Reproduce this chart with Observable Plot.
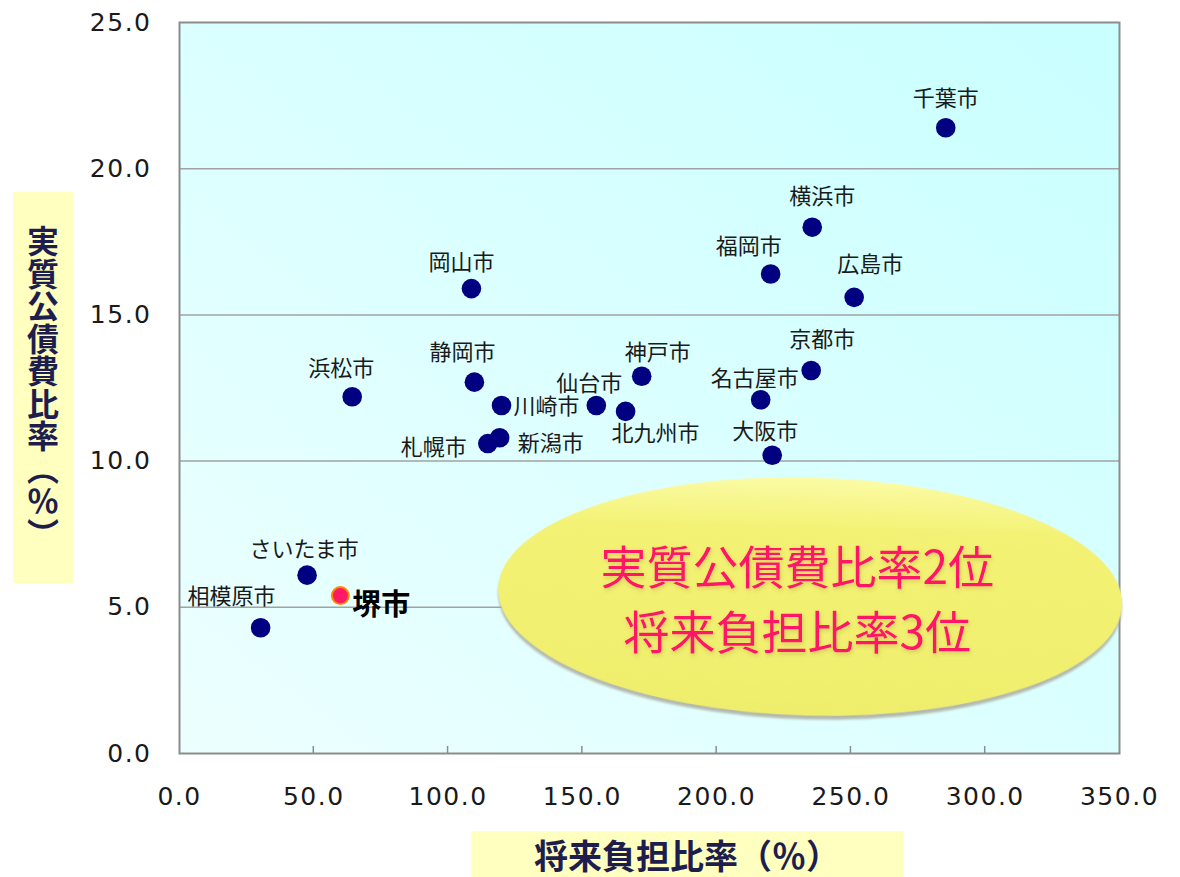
<!DOCTYPE html>
<html lang="ja">
<head>
<meta charset="utf-8">
<title>実質公債費比率と将来負担比率</title>
<script src="https://cdn.jsdelivr.net/npm/d3@7"></script>
<script src="https://cdn.jsdelivr.net/npm/@observablehq/plot@0.6"></script>
<style>
  html, body { margin: 0; padding: 0; background: #ffffff; }
  #chart { position: relative; width: 1180px; height: 877px; overflow: hidden; }
  #chart svg { position: absolute; left: 0; top: 0; }
  #chart svg g[aria-label="y-axis tick label"] text,
  #chart svg g[aria-label="x-axis tick label"] text { letter-spacing: 1.5px; }
  .axis-title {
    position: absolute;
    background: #ffffbf;
    color: #1e1e4e;
    font-family: "Noto Sans CJK JP", sans-serif;
    font-weight: 700;
    display: flex; align-items: center; justify-content: center;
  }
  #ytitle { left: 13px; top: 192px; width: 60px; height: 391px; font-size: 32px; letter-spacing: 0.5px; writing-mode: vertical-rl; }
  #xtitle { left: 471px; top: 831px; width: 432px; height: 46px; font-size: 34px; }
</style>
</head>
<body>
<div id="chart">
  <div class="axis-title" id="ytitle">実質公債費比率（％）</div>
  <div class="axis-title" id="xtitle">将来負担比率（％）</div>
</div>
<script>
// 政令指定都市の将来負担比率（%）と実質公債費比率（%）
const cities = ["千葉市", "横浜市", "福岡市", "広島市", "岡山市", "京都市", "神戸市", "静岡市", "浜松市",
  "名古屋市", "仙台市", "川崎市", "北九州市", "新潟市", "札幌市", "大阪市", "さいたま市", "相模原市"];
const futureBurden = [285.3, 235.6, 220.1, 251.2, 108.7, 235.2, 172.1, 109.8, 64.3,
  216.4, 155.2, 119.9, 166.1, 119.2, 114.8, 220.7, 47.5, 30.2];
const debtService = [21.4, 18.0, 16.4, 15.6, 15.9, 13.1, 12.9, 12.7, 12.2,
  12.1, 11.9, 11.9, 11.7, 10.8, 10.6, 10.2, 6.1, 4.3];

// 堺市（強調表示）
const sakaiName = "堺市";
const sakaiFuture = 59.9;
const sakaiDebt = 5.4;

// 軸目盛
const xTicks = [0, 50, 100, 150, 200, 250, 300, 350];
const yTicks = [0, 5, 10, 15, 20, 25];

// 吹き出しの文言
const calloutLines = ["実質公債費比率2位", "将来負担比率3位"];

const points = cities.map((name, i) => ({name, x: futureBurden[i], y: debtService[i]}));
const sakai = [{name: sakaiName, x: sakaiFuture, y: sakaiDebt}];

// ラベルの配置（点からのずれ）
const labelLayout = {
  "千葉市":   {dx: 0,   dy: -29, anchor: "middle"},
  "横浜市":   {dx: 10,  dy: -30, anchor: "middle"},
  "福岡市":   {dx: -22, dy: -27, anchor: "middle"},
  "広島市":   {dx: 16,  dy: -32, anchor: "middle"},
  "岡山市":   {dx: -10, dy: -26, anchor: "middle"},
  "京都市":   {dx: 11,  dy: -31, anchor: "middle"},
  "神戸市":   {dx: 16,  dy: -23, anchor: "middle"},
  "静岡市":   {dx: -12, dy: -29, anchor: "middle"},
  "浜松市":   {dx: -11, dy: -28, anchor: "middle"},
  "名古屋市": {dx: -6,  dy: -21, anchor: "middle"},
  "仙台市":   {dx: -7,  dy: -22, anchor: "middle"},
  "川崎市":   {dx: 12,  dy: 1,   anchor: "start"},
  "北九州市": {dx: 30,  dy: 23,  anchor: "middle"},
  "新潟市":   {dx: 18,  dy: 6,   anchor: "start"},
  "札幌市":   {dx: -21, dy: 4,   anchor: "end"},
  "大阪市":   {dx: -7,  dy: -23, anchor: "middle"},
  "さいたま市": {dx: -3, dy: -25, anchor: "middle"},
  "相模原市": {dx: -29, dy: -31, anchor: "middle"}
};

const labelFont = "'Noto Sans CJK JP', sans-serif";

// 背景のグラデーション
function background(index, {x, y}) {
  const g = d3.create("svg:g");
  const defs = g.append("defs");
  const lg = defs.append("linearGradient").attr("id", "plot-bg")
    .attr("x1", "100%").attr("y1", "0%").attr("x2", "0%").attr("y2", "100%");
  lg.append("stop").attr("offset", "0%").attr("stop-color", "#c9ffff");
  lg.append("stop").attr("offset", "100%").attr("stop-color", "#edffff");
  g.append("rect")
    .attr("x", x(0)).attr("y", y(25))
    .attr("width", x(350) - x(0)).attr("height", y(0) - y(25))
    .attr("fill", "url(#plot-bg)");
  return g.node();
}

// x軸の内向き目盛線
function xTickMarks(index, {x, y}) {
  const g = d3.create("svg:g").attr("stroke", "#8c8c8c").attr("stroke-width", 1.5);
  for (const v of xTicks.slice(1, -1)) {
    g.append("line").attr("x1", x(v)).attr("x2", x(v)).attr("y1", y(0)).attr("y2", y(0) - 7);
  }
  return g.node();
}

// 順位の吹き出し（楕円）
function callout(index, {x, y}) {
  const cx = x(235), cy = y(5.35);
  const g = d3.create("svg:g");
  const defs = g.append("defs");
  const fg = defs.append("linearGradient").attr("id", "callout-fill")
    .attr("x1", "0%").attr("y1", "0%").attr("x2", "0%").attr("y2", "100%");
  fg.append("stop").attr("offset", "0%").attr("stop-color", "#fbfba6");
  fg.append("stop").attr("offset", "22%").attr("stop-color", "#f3f274");
  fg.append("stop").attr("offset", "100%").attr("stop-color", "#efee6c");
  const sh = defs.append("filter").attr("id", "callout-shadow")
    .attr("x", "-10%").attr("y", "-10%").attr("width", "120%").attr("height", "130%");
  sh.append("feDropShadow").attr("dx", 0).attr("dy", 4).attr("stdDeviation", 1.2)
    .attr("flood-color", "#a8a898").attr("flood-opacity", 0.8);
  const tg = defs.append("filter").attr("id", "callout-text")
    .attr("x", "-10%").attr("y", "-30%").attr("width", "120%").attr("height", "160%");
  tg.append("feDropShadow").attr("dx", 1).attr("dy", 2).attr("stdDeviation", 2)
    .attr("flood-color", "#b08a40").attr("flood-opacity", 0.4);

  g.append("ellipse")
    .attr("cx", cx).attr("cy", cy).attr("rx", 312).attr("ry", 119)
    .attr("transform", `rotate(1.5 ${cx} ${cy})`)
    .attr("fill", "url(#callout-fill)")
    .attr("filter", "url(#callout-shadow)");

  const t = g.append("g")
    .attr("fill", "#ff1466")
    .attr("font-family", labelFont)
    .attr("font-size", 46)
    .attr("text-anchor", "middle")
    .attr("filter", "url(#callout-text)");
  t.append("text").attr("x", cx - 13).attr("y", cy - 29).attr("dy", "0.35em").text(calloutLines[0]);
  t.append("text").attr("x", cx - 13).attr("y", cy + 36).attr("dy", "0.35em").text(calloutLines[1]);
  return g.node();
}

const labelMarks = points.map(p => {
  const L = labelLayout[p.name];
  return Plot.text([p], {
    x: "x", y: "y", text: "name",
    dx: L.dx, dy: L.dy, textAnchor: L.anchor,
    fill: "#1a1a1a", fontSize: 22, fontFamily: labelFont
  });
});

const chart = Plot.plot({
  width: 1180,
  height: 877,
  marginLeft: 179,
  marginRight: 61,
  marginTop: 22,
  marginBottom: 124,
  style: {background: "transparent", overflow: "visible"},
  x: {domain: [0, 350]},
  y: {domain: [0, 25]},
  marks: [
    background,
    Plot.gridY(yTicks.slice(1, -1), {stroke: "#a2a2a2", strokeOpacity: 1, strokeWidth: 1.5}),
    Plot.frame({stroke: "#8c8c8c", strokeWidth: 2}),
    xTickMarks,
    Plot.axisY({
      ticks: yTicks, tickSize: 0, tickPadding: 28,
      tickFormat: d => d.toFixed(1),
      fontSize: 25, fontFamily: "'DejaVu Sans', sans-serif", fill: "#1a1a1a", label: null
    }),
    Plot.axisX({
      ticks: xTicks, tickSize: 0, tickPadding: 34,
      tickFormat: d => d.toFixed(1),
      fontSize: 25, fontFamily: "'DejaVu Sans', sans-serif", fill: "#1a1a1a", label: null
    }),
    Plot.dot(points, {x: "x", y: "y", r: 9.8, fill: "#000080", stroke: "none"}),
    ...labelMarks,
    Plot.dot(sakai, {x: "x", y: "y", r: 8.5, fill: "#ff1a66", stroke: "#ff8a00", strokeWidth: 2}),
    Plot.text(sakai, {
      x: "x", y: "y", text: "name", dx: 12, dy: 10, textAnchor: "start",
      fill: "#000000", fontSize: 29, fontWeight: "bold", fontFamily: labelFont
    }),
    callout
  ]
});

document.getElementById("chart").prepend(chart);
</script>
</body>
</html>
